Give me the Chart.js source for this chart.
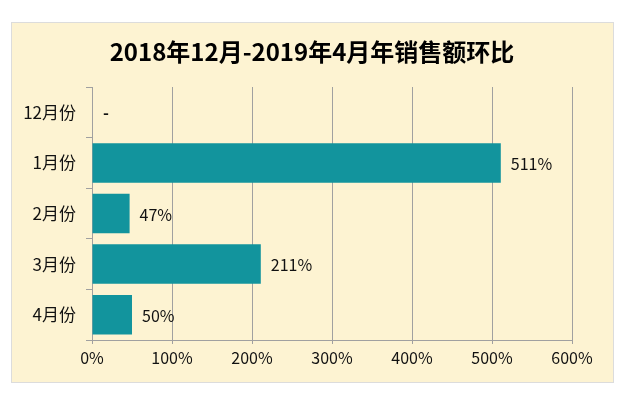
<!DOCTYPE html>
<html>
<head>
<meta charset="utf-8">
<script src="https://cdn.jsdelivr.net/npm/chart.js@4/dist/chart.umd.min.js"></script>
<style>
  html, body { margin: 0; padding: 0; background: #fff; }
  #box {
    position: absolute; left: 11px; top: 22px;
    width: 601px; height: 359px;
    background: #fdf3d2; border: 1px solid #dcdcdc;
  }
  #grafica { display: block; }
</style>
</head>
<body>
<div id="box"><canvas id="grafica" width="601" height="359"></canvas></div>
<script>
const titulo = "2018年12月-2019年4月年销售额环比"
const meses = ["12月份", "1月份", "2月份", "3月份", "4月份"]
const valores = [null, 511, 47, 211, 50]
const ticksX = [0, 100, 200, 300, 400, 500, 600]

const fuente = '"Noto Sans CJK SC", "Noto Sans", sans-serif'

// titulo y etiquetas dibujados a mano
const extras = {
    id: 'extras',
    afterDraw(chart) {
        const c = chart.ctx
        c.save()
        c.fillStyle = '#000'
        c.font = 'bold 24px ' + fuente
        c.textAlign = 'center'
        c.textBaseline = 'middle'
        c.fillText(titulo, 300, 29)

        const meta = chart.getDatasetMeta(0)
        const x = chart.scales.x
        c.font = '16px ' + fuente
        c.textAlign = 'left'
        c.fillStyle = '#111'
        meta.data.forEach((bar, i) => {
            const v = valores[i]
            const txt = v == null ? '-' : v + '%'
            if (v == null) c.font = 'bold 16px ' + fuente
            else c.font = '16px ' + fuente
            const px = v == null ? x.getPixelForValue(0) + 11 : bar.x + 10
            c.fillText(txt, px, bar.y + 1)
        })
        c.restore()
    }
}

new Chart(document.getElementById('grafica').getContext('2d'), {
    type: 'bar',
    data: {
        labels: meses,
        datasets: [{
            data: valores,
            backgroundColor: '#12949d',
            barPercentage: 0.78,
            categoryPercentage: 1
        }]
    },
    options: {
        indexAxis: 'y',
        responsive: false,
        animation: false,
        layout: { padding: { top: 64, right: 41, bottom: 0, left: 0 } },
        plugins: {
            legend: { display: false },
            title: { display: false },
            tooltip: { enabled: false }
        },
        scales: {
            x: {
                min: 0, max: 600,
                afterBuildTicks: s => { s.ticks = ticksX.map(v => ({ value: v })) },
                afterFit: s => { s.height = 42 },
                grid: { color: '#a0a0a0', tickLength: 4, lineWidth: 1 },
                border: { color: '#a0a0a0' },
                ticks: {
                    color: '#111',
                    font: { family: fuente, size: 16 },
                    padding: 4,
                    maxRotation: 0,
                    callback: v => v + '%'
                }
            },
            y: {
                afterFit: s => { s.width = 80 },
                grid: { drawOnChartArea: false, color: '#a0a0a0', tickLength: 6, offset: true },
                border: { color: '#a0a0a0' },
                ticks: {
                    color: '#111',
                    font: { family: fuente, size: 17 },
                    padding: 10
                }
            }
        }
    },
    plugins: [extras]
})
</script>
</body>
</html>
